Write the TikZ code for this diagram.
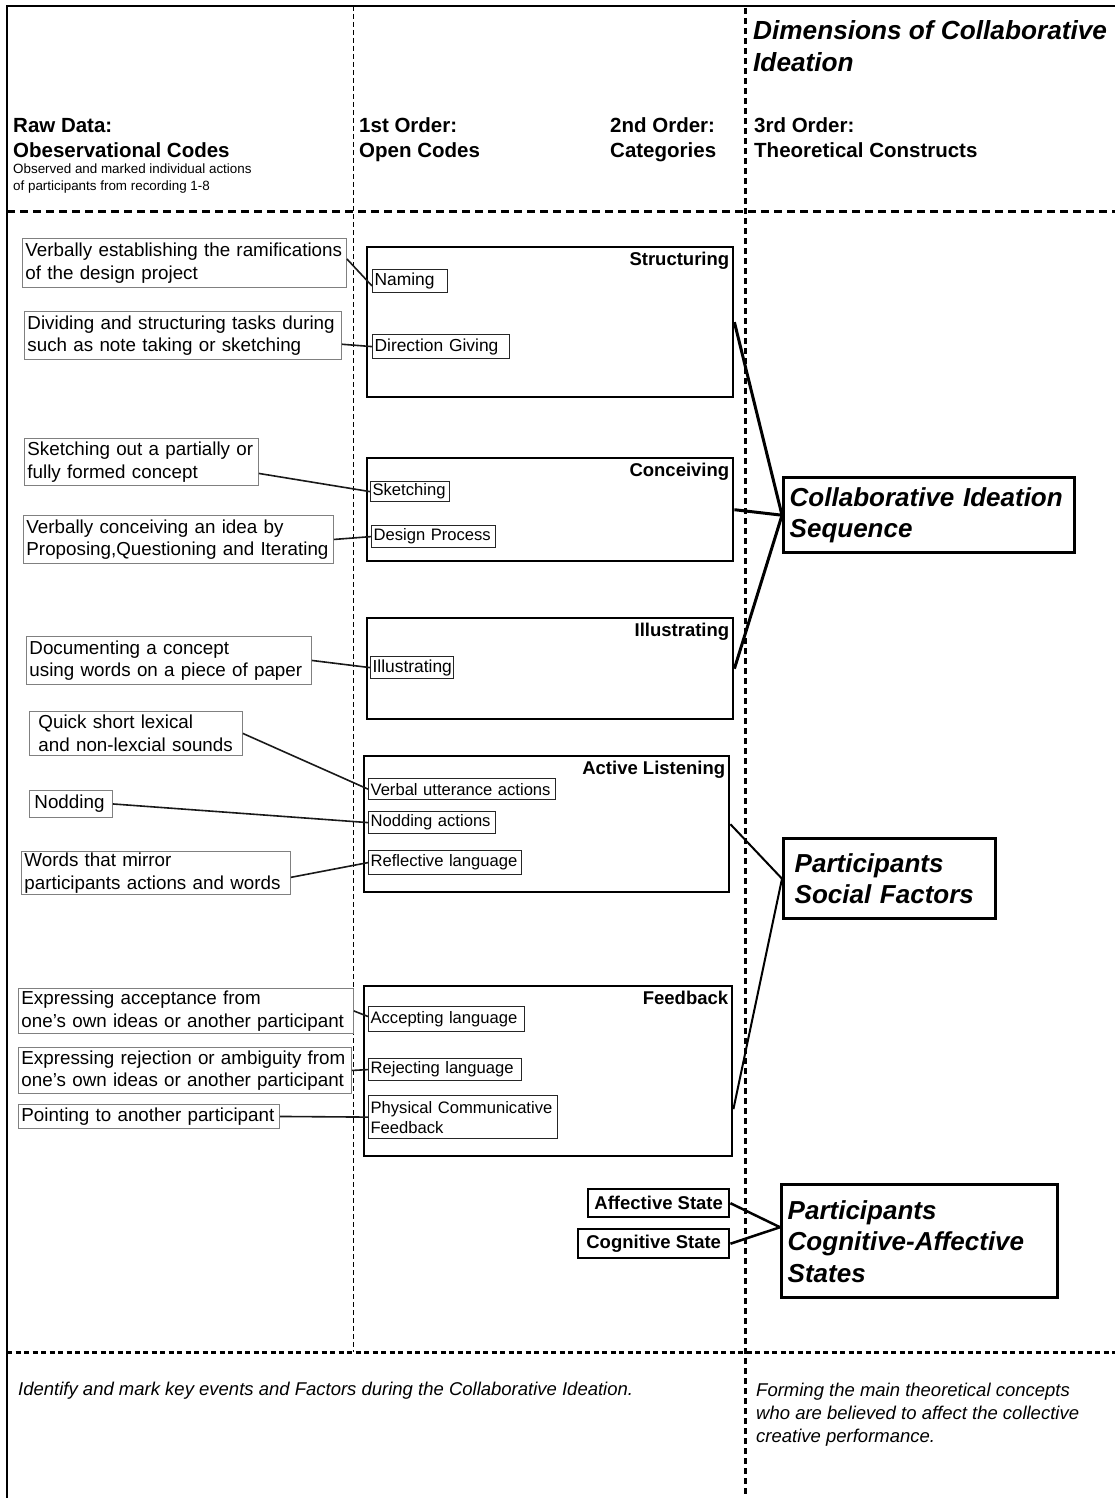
\documentclass[tikz,border=0pt]{standalone}
\usepackage{fontspec}
\setmainfont{Liberation Sans}
\usetikzlibrary{calc}
\newcommand{\fsz}[2]{\fontsize{#1}{#2}\selectfont}
\newcommand{\lnbox}[1]{\mbox{#1}}
\begin{document}
\begin{tikzpicture}[x=1pt,y=-1pt,
  rawbox/.style={draw=black!50, line width=0.9pt, anchor=north west, align=left, inner xsep=3pt, inner ysep=0pt, font=\fsz{18.8}{22.5}},
  codebox/.style={draw=black!85, line width=1.2pt, anchor=north west, align=left, inner xsep=2pt, inner ysep=0pt, font=\fsz{17.4}{20}},
  narrowcode/.style={font=\fsz{16.6}{20}},
  catbox/.style={draw=black, line width=2.4pt, anchor=north west, inner sep=0pt},
  catlabel/.style={anchor=north east, inner sep=0pt, font=\bfseries\fsz{18.5}{22}},
  conbox/.style={draw=black, line width=3.4pt, anchor=north west, align=left, inner ysep=0pt, font=\bfseries\itshape\fsz{26}{31.5}},
  statebox/.style={draw=black, line width=2.4pt, anchor=north west, inner sep=0pt, font=\bfseries\fsz{18.5}{22}},
  hdr/.style={anchor=base west, inner sep=0pt, font=\bfseries\fsz{20.5}{25}},
  smallhdr/.style={anchor=base west, inner sep=0pt, font=\fsz{13.4}{16}},
  titletext/.style={anchor=base west, inner sep=0pt, font=\bfseries\itshape\fsz{26.2}{32}},
  foottext/.style={anchor=base west, inner sep=0pt, font=\itshape\fsz{18.5}{22.5}},
  rawlink/.style={line width=1.6pt, draw=black!90},
]
\useasboundingbox (0,0) rectangle (1115,1498);

% frame and separators
\draw[line width=2pt] (7,1498) -- (7,6) -- (1115,6);
\draw[line width=1pt, dash pattern=on 5pt off 3pt] (353,6) -- (353,1352);
\draw[line width=3pt, dash pattern=on 6pt off 4pt] (745,8) -- (745,1498);
\draw[line width=3pt, dash pattern=on 8pt off 5pt] (7,211) -- (1115,211);
\draw[line width=3pt, dash pattern=on 5pt off 3.5pt] (7,1352) -- (1115,1352);

% headers
\node[titletext] (ti1) at (753,40) {Dimensions of Collaborative};
\node[titletext] (ti2) at (753,72) {Ideation};
\node[hdr] (h1a) at (13,133) {Raw Data:};
\node[hdr] (h1b) at (13,158) {Obeservational Codes};
\node[smallhdr] (h1c) at (13,174) {Observed and marked individual actions};
\node[smallhdr] (h1d) at (13,190) {of participants from recording 1-8};
\node[hdr] (h2a) at (359,133) {1st Order:};
\node[hdr] (h2b) at (359,158) {Open Codes};
\node[hdr] (h3a) at (610,133) {2nd Order:};
\node[hdr] (h3b) at (610,158) {Categories};
\node[hdr] (h4a) at (754,133) {3rd Order:};
\node[hdr] (h4b) at (754,158) {Theoretical Constructs};

% category boxes
\node[catbox, minimum width=366pt, minimum height=150pt] (c1) at (366,246) {};
\node[catbox, minimum width=366pt, minimum height=103pt] (c2) at (366,457) {};
\node[catbox, minimum width=366pt, minimum height=101pt] (c3) at (366,617) {};
\node[catbox, minimum width=365pt, minimum height=136pt] (c4) at (363,755) {};
\node[catbox, minimum width=368pt, minimum height=170pt] (c5) at (363,985) {};
\node[catlabel] (c1l) at ([xshift=-5pt,yshift=-6pt]c1.north east) {Structuring};
\node[catlabel] (c2l) at ([xshift=-5pt,yshift=-6pt]c2.north east) {Conceiving};
\node[catlabel] (c3l) at ([xshift=-5pt,yshift=-6pt]c3.north east) {Illustrating};
\node[catlabel] (c4l) at ([xshift=-5pt,yshift=-6pt]c4.north east) {Active Listening};
\node[catlabel] (c5l) at ([xshift=-5pt,yshift=-6pt]c5.north east) {Feedback};

% open codes
\node[codebox, text width=71pt, minimum height=23pt] (o1) at (372,269) {\lnbox{Naming}};
\node[codebox, text width=133pt, minimum height=24pt] (o2) at (372,334) {\lnbox{Direction Giving}};
\node[codebox, narrowcode, text width=75pt, minimum height=20pt] (o3) at (370,481) {\lnbox{Sketching}};
\node[codebox, narrowcode, text width=120pt, minimum height=22pt] (o4) at (371,525) {\lnbox{Design Process}};
\node[codebox, text width=79pt, minimum height=22pt] (o5) at (370,656) {\lnbox{Illustrating}};
\node[codebox, narrowcode, text width=183pt, minimum height=21pt] (o6) at (368,778) {\lnbox{Verbal utterance actions}};
\node[codebox, narrowcode, text width=123pt, minimum height=22pt] (o7) at (368,811) {\lnbox{Nodding actions}};
\node[codebox, narrowcode, text width=149pt, minimum height=24pt] (o8) at (368,850) {\lnbox{Reflective language}};
\node[codebox, narrowcode, text width=152pt, minimum height=25pt] (o9) at (368,1006) {\lnbox{Accepting language}};
\node[codebox, narrowcode, text width=149pt, minimum height=22pt] (o10) at (368,1058) {\lnbox{Rejecting language}};
\node[codebox, narrowcode, text width=185pt, minimum height=43pt] (o11) at (368,1095) {\lnbox{Physical Communicative}\\\lnbox{Feedback}};

% raw data boxes
\node[rawbox, text width=318pt, minimum height=49pt] (r1) at (22,238) {\lnbox{Verbally establishing the ramifications}\\\lnbox{of the design project}};
\node[rawbox, text width=311pt, minimum height=48pt] (r2) at (24,311) {\lnbox{Dividing and structuring tasks during}\\\lnbox{such as note taking or sketching}};
\node[rawbox, text width=228pt, minimum height=47pt] (r3) at (24,438) {\lnbox{Sketching out a partially or}\\\lnbox{fully formed concept}};
\node[rawbox, text width=304pt, minimum height=48pt] (r4) at (23,515) {\lnbox{Verbally conceiving an idea by}\\\lnbox{Proposing,Questioning and Iterating}};
\node[rawbox, text width=279pt, minimum height=48pt] (r5) at (26,636) {\lnbox{Documenting a concept}\\\lnbox{using words on a piece of paper}};
\node[rawbox, inner xsep=9pt, text width=195pt, minimum height=44pt] (r6) at (29,711) {\lnbox{Quick short lexical}\\\lnbox{and non-lexcial sounds}};
\node[rawbox, inner xsep=5pt, text width=73pt, minimum height=27pt] (r7) at (29,790) {\lnbox{Nodding}};
\node[rawbox, text width=263pt, minimum height=43pt] (r8) at (21,851) {\lnbox{Words that mirror}\\\lnbox{participants actions and words}};
\node[rawbox, text width=329pt, minimum height=45pt] (r9) at (18,988) {\lnbox{Expressing acceptance from}\\\lnbox{one’s own ideas or another participant}};
\node[rawbox, text width=327pt, minimum height=46pt] (r10) at (18,1047) {\lnbox{Expressing rejection or ambiguity from}\\\lnbox{one’s own ideas or another participant}};
\node[rawbox, text width=255pt, minimum height=24pt] (r11) at (18,1104) {\lnbox{Pointing to another participant}};

% raw -> open code links
\draw[rawlink] ($(r1.north east)!0.42!(r1.south east)$) -- ($(o1.north west)!0.7!(o1.south west)$);
\draw[rawlink] ($(r2.north east)!0.68!(r2.south east)$) -- (o2.west);
\draw[rawlink] ($(r3.north east)!0.74!(r3.south east)$) -- (o3.west);
\draw[rawlink] (r4.east) -- (o4.west);
\draw[rawlink] (r5.east) -- (o5.west);
\draw[rawlink] (r6.east) -- (o6.west);
\draw[rawlink] (r7.east) -- (o7.west);
\draw[rawlink] ($(r8.north east)!0.6!(r8.south east)$) -- (o8.west);
\draw[rawlink] ($(r9.north east)!0.5!(r9.south east)$) -- ($(o9.north west)!0.4!(o9.south west)$);
\draw[rawlink] (r10.east) -- (o10.west);
\draw[rawlink] (r11.east) -- ($(o11.north west)!0.5!(o11.south west)$);

% theoretical constructs
\node[conbox, inner xsep=6pt, text width=279pt, minimum height=75pt] (t1) at (782,476) {Collaborative Ideation\\Sequence};
\node[conbox, inner xsep=11pt, text width=190pt, minimum height=80pt] (t2) at (782,837) {Participants\\Social Factors};
\node[conbox, inner xsep=6pt, text width=264pt, minimum height=113pt] (t3) at (780,1183) {Participants\\Cognitive-Affective\\States};

% state boxes
\node[statebox, minimum width=141pt, minimum height=28pt] (a1) at (587,1188) {Affective State};
\node[statebox, minimum width=151pt, minimum height=29pt] (a2) at (577,1228) {Cognitive State};

% category -> construct links
\draw[line width=3pt] (c1.east) -- (t1.west);
\draw[line width=3pt] (c2.east) -- (t1.west);
\draw[line width=3pt] (c3.east) -- (t1.west);
\draw[line width=2pt] (c4.east) -- (t2.west);
\draw[line width=2pt] ($(c5.north east)!0.72!(c5.south east)$) -- (t2.west);
\coordinate (t3in) at ($(t3.north west)!0.38!(t3.south west)$);
\draw[line width=2.5pt] (a1.east) -- (t3in);
\draw[line width=2.5pt] (a2.east) -- (t3in);

% footer texts
\node[foottext] (f1) at (18,1395) {Identify and mark key events and Factors during the Collaborative Ideation.};
\node[foottext] (f2) at (756,1396) {Forming the main theoretical concepts};
\node[foottext] (f3) at (756,1419) {who are believed to affect the collective};
\node[foottext] (f4) at (756,1442) {creative performance.};
\end{tikzpicture}
\end{document}
